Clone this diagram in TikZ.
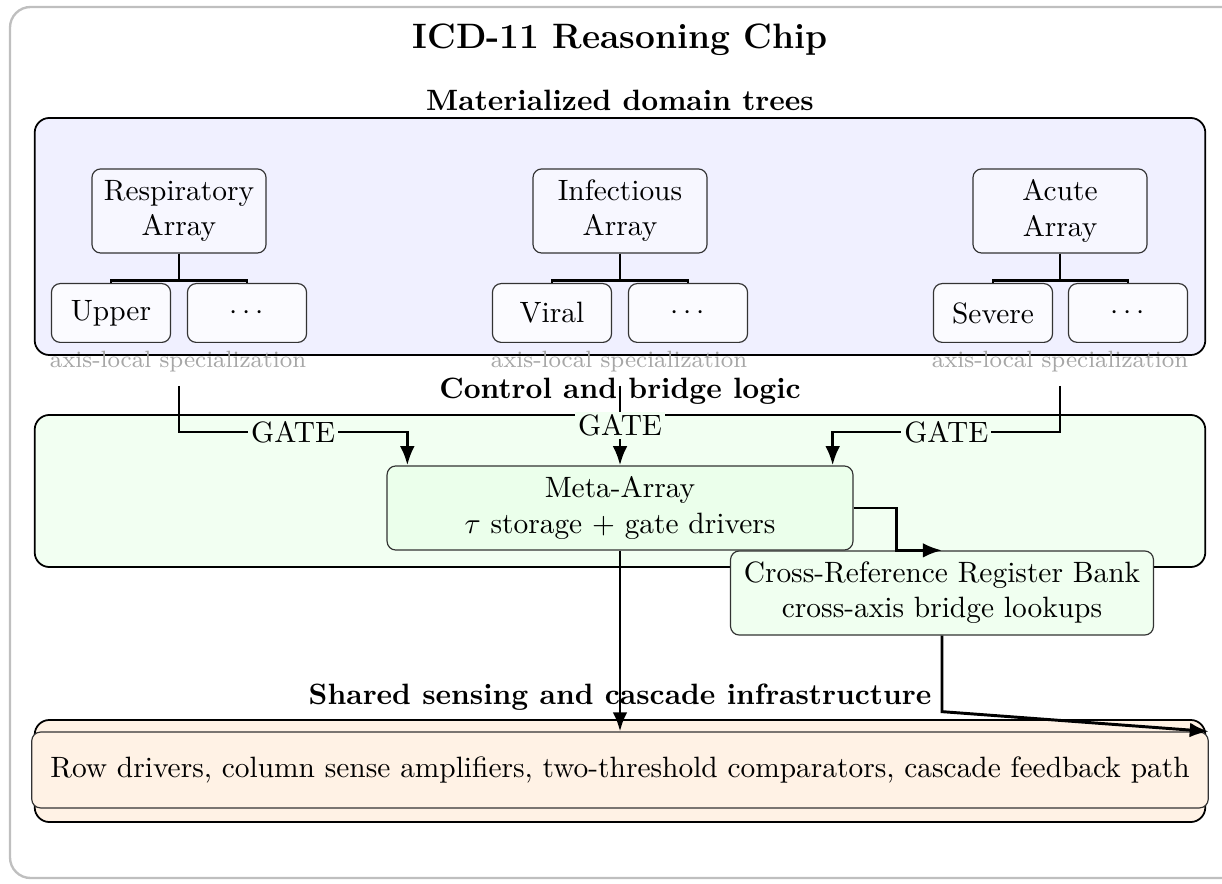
\documentclass[tikz,border=0pt]{standalone}
\usetikzlibrary{arrows.meta}
\begin{document}
\begin{tikzpicture}[x=0.34pt,y=-0.34pt,
  outerframe/.style={draw=black!25, line width=0.8pt, rounded corners=7pt},
  container/.style={draw=black, line width=0.6pt, rounded corners=5pt, inner sep=0pt},
  box/.style={draw=black!80, line width=0.4pt, rounded corners=3pt, align=center, inner sep=2pt},
  parentbox/.style={box, fill=blue!3, minimum width=59.2pt, minimum height=28.6pt},
  childbox/.style={box, fill=blue!1.5, minimum width=40.5pt, minimum height=20pt},
  sectlabel/.style={font=\bfseries},
  axislabel/.style={font=\footnotesize, text=black!35},
  arr/.style={draw=black, line width=1pt, -{Latex[length=6.5pt,width=5pt]}},
  tree/.style={draw=black, line width=1pt},
  gatelbl/.style={fill=green!5, inner sep=1pt},
]
\useasboundingbox (0,0) rectangle (1222,884);
\draw[outerframe] (10,7) rectangle (1300,878);

\node[font=\large\bfseries] (title) at (620,40) {ICD-11 Reasoning Chip};

% domain trees
\node[sectlabel] (domlbl) at (620,100) {Materialized domain trees};
\node[container, fill=blue!6, minimum width=398pt, minimum height=80.6pt] (dom) at (620,236.5) {};

\node[parentbox] (resp) at (179,211) {Respiratory\\Array};
\node[childbox] (upper) at (111,313) {Upper};
\node[childbox] (rdots) at (247,313) {$\cdots$};
\node[parentbox] (inf) at (620,211) {Infectious\\Array};
\node[childbox] (viral) at (552,313) {Viral};
\node[childbox] (idots) at (688,313) {$\cdots$};
\node[parentbox] (acute) at (1060,211) {Acute\\Array};
\node[childbox] (severe) at (993,313) {Severe};
\node[childbox] (adots) at (1128,313) {$\cdots$};

\foreach \p/\c in {resp/upper, resp/rdots, inf/viral, inf/idots, acute/severe, acute/adots}
  \draw[tree] (\p.south) -- ++(0,27) -| (\c.north);

\node[axislabel] (ax1) at (178,362) {axis-local specialization};
\node[axislabel] (ax2) at (619,362) {axis-local specialization};
\node[axislabel] (ax3) at (1060,362) {axis-local specialization};

% control and bridge logic
\node[sectlabel] (ctllbl) at (620,391) {Control and bridge logic};
\node[container, fill=green!5, minimum width=398pt, minimum height=51.7pt] (ctl) at (620,491) {};

\node[box, fill=green!8, minimum width=158.4pt, minimum height=28.6pt] (meta) at (620,508) {Meta-Array\\$\tau$ storage + gate drivers};

% shared infrastructure
\node[sectlabel] (shlbl) at (620,697) {Shared sensing and cascade infrastructure};
\node[container, fill=orange!10, minimum width=398pt, minimum height=34.7pt] (shared) at (620,771) {};
\node[box, fill=orange!10, inner sep=4pt, minimum height=25.8pt, minimum width=400pt] (infra) at (620,770) {Row drivers, column sense amplifiers, two-threshold comparators, cascade feedback path};

\node[box, fill=green!6, minimum width=143.8pt, minimum height=28.6pt] (xref) at (942,593) {Cross-Reference Register Bank\\cross-axis bridge lookups};

% connectors
\coordinate (g1) at (179,386);
\coordinate (g2) at (620,386);
\coordinate (g3) at (1060,386);
\draw[arr] (g1) -- ++(0,46) -| node[gatelbl, pos=0.25] {GATE} ([xshift=7.1pt]meta.north west);
\draw[arr] (g2) -- node[gatelbl] {GATE} (meta.north);
\draw[arr] (g3) -- ++(0,46) -| node[gatelbl, pos=0.25] {GATE} ([xshift=-7.1pt]meta.north east);
\draw[arr] (meta.east) -- ++(43,0) |- (xref.north);
\draw[arr] (meta.south) -- (infra.north);
\draw[arr] (xref.south) -- ++(0,76) -- (infra.north east);
\end{tikzpicture}
\end{document}
